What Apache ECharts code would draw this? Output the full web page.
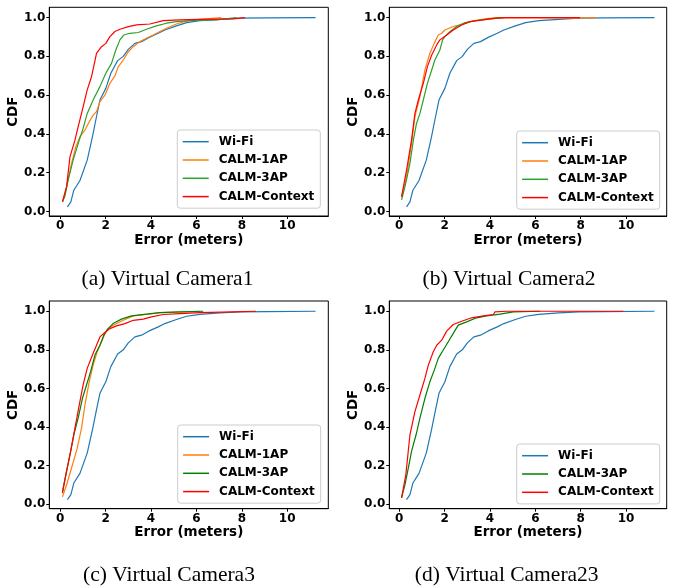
<!DOCTYPE html>
<html>
<head>
<meta charset="utf-8">
<script src="https://cdn.jsdelivr.net/npm/echarts@6/dist/echarts.min.js"></script>
<style>html,body{margin:0;padding:0;background:#fff}#c{width:678px;height:587px}</style>
</head>
<body>
<div id="c"></div>
<script>
// ---- tick labels ----
const xTicks = [0, 2, 4, 6, 8, 10];
const yTicks = [0, 0.2, 0.4, 0.6, 0.8, 1.0];
const seriesNames = ['Wi-Fi', 'CALM-1AP', 'CALM-3AP', 'CALM-Context'];
const captions = ['(a) Virtual Camera1', '(b) Virtual Camera2', '(c) Virtual Camera3', '(d) Virtual Camera23'];

// ---- data: [error (m), CDF] ----
const wifi = [[0.32,0.024],[0.47,0.05],[0.6,0.11],[0.87,0.16],[1.19,0.265],[1.42,0.385],[1.6,0.49],[1.75,0.575],[2.01,0.635],[2.23,0.713],[2.53,0.778],[2.78,0.8],[3.0,0.836],[3.29,0.867],[3.58,0.876],[3.92,0.898],[4.32,0.919],[4.61,0.936],[5.12,0.957],[5.57,0.974],[6.15,0.984],[7.03,0.991],[7.91,0.997],[9.09,0.998],[11.25,1.0]];

const a1ap = [[0.1,0.05],[0.28,0.127],[0.5,0.248],[0.69,0.334],[0.87,0.386],[1.09,0.42],[1.28,0.463],[1.45,0.497],[1.6,0.515],[1.75,0.566],[1.97,0.6],[2.19,0.661],[2.41,0.699],[2.56,0.747],[2.78,0.781],[3.0,0.824],[3.22,0.85],[3.51,0.876],[3.8,0.893],[4.1,0.91],[4.39,0.928],[4.68,0.945],[5.12,0.967],[5.57,0.983],[6.15,0.991],[7.1,1.0]];
const a3ap = [[0.1,0.05],[0.2,0.076],[0.35,0.162],[0.57,0.265],[0.84,0.368],[1.01,0.429],[1.19,0.506],[1.45,0.575],[1.75,0.644],[2.01,0.713],[2.26,0.764],[2.45,0.833],[2.63,0.885],[2.8,0.91],[3.07,0.919],[3.44,0.923],[3.8,0.94],[4.24,0.957],[4.68,0.971],[5.12,0.979],[5.86,0.985],[6.89,0.988],[7.77,1.0]];
const aCtx = [[0.1,0.05],[0.28,0.127],[0.43,0.282],[0.65,0.368],[0.79,0.437],[1.01,0.54],[1.19,0.627],[1.38,0.695],[1.6,0.816],[1.82,0.85],[2.01,0.867],[2.19,0.902],[2.41,0.928],[2.63,0.94],[3.0,0.953],[3.36,0.962],[3.95,0.967],[4.54,0.984],[5.27,0.988],[6.15,0.991],[7.62,0.993],[8.14,1.0]];

const b1ap = [[0.1,0.076],[0.32,0.179],[0.54,0.351],[0.69,0.489],[0.91,0.592],[1.13,0.73],[1.35,0.816],[1.54,0.867],[1.72,0.91],[1.87,0.919],[2.01,0.936],[2.38,0.954],[2.82,0.967],[3.26,0.983],[3.85,0.995],[4.29,1.0],[7.68,0.997],[8.68,1.0]];
const b3ap = [[0.1,0.06],[0.25,0.127],[0.47,0.248],[0.62,0.368],[0.76,0.454],[0.91,0.506],[1.06,0.575],[1.24,0.661],[1.43,0.73],[1.57,0.781],[1.79,0.833],[1.91,0.885],[2.01,0.902],[2.24,0.928],[2.53,0.954],[2.9,0.974],[3.41,0.985],[4.0,0.993],[4.59,1.0]];
const bCtx = [[0.1,0.076],[0.32,0.213],[0.54,0.368],[0.69,0.506],[0.84,0.575],[1.06,0.661],[1.24,0.747],[1.43,0.807],[1.65,0.859],[1.79,0.885],[2.09,0.91],[2.38,0.936],[2.75,0.962],[3.12,0.979],[3.71,0.988],[4.29,0.997],[4.74,1.0],[7.97,1.0]];

const c1ap = [[0.1,0.038],[0.28,0.1],[0.5,0.188],[0.75,0.291],[0.94,0.394],[1.09,0.515],[1.28,0.635],[1.45,0.721],[1.63,0.79],[1.82,0.842],[2.04,0.902],[2.33,0.927],[2.78,0.953],[3.22,0.976],[3.8,0.983],[4.39,0.993],[5.57,0.997],[6.15,1.0]];
const c3ap = [[0.1,0.067],[0.25,0.153],[0.43,0.256],[0.6,0.36],[0.79,0.446],[0.98,0.549],[1.16,0.618],[1.34,0.687],[1.53,0.773],[1.75,0.824],[1.92,0.876],[2.11,0.91],[2.33,0.936],[2.7,0.959],[3.14,0.976],[3.8,0.985],[4.39,0.993],[5.27,0.997],[6.3,1.0]];
const cCtx = [[0.1,0.058],[0.28,0.17],[0.46,0.274],[0.65,0.394],[0.84,0.515],[1.01,0.618],[1.19,0.704],[1.42,0.773],[1.6,0.824],[1.75,0.867],[1.97,0.89],[2.19,0.91],[2.48,0.924],[2.85,0.936],[3.22,0.953],[3.66,0.959],[4.02,0.971],[4.54,0.983],[5.27,0.988],[6.15,0.993],[7.62,0.997],[8.62,1.0]];

const d3ap = [[0.1,0.033],[0.25,0.1],[0.4,0.188],[0.54,0.274],[0.74,0.36],[0.91,0.446],[1.13,0.549],[1.35,0.635],[1.57,0.704],[1.72,0.756],[1.94,0.799],[2.16,0.842],[2.38,0.885],[2.6,0.928],[2.97,0.945],[3.41,0.966],[3.85,0.976],[4.44,0.985],[5.03,0.997],[6.21,1.0]];
const dCtx = [[0.1,0.033],[0.29,0.153],[0.47,0.36],[0.69,0.48],[0.91,0.566],[1.13,0.652],[1.28,0.721],[1.5,0.79],[1.65,0.824],[1.87,0.85],[2.09,0.897],[2.38,0.931],[2.75,0.948],[3.19,0.966],[3.71,0.976],[4.15,0.983],[4.22,0.997],[4.74,1.0],[9.88,1.0]];

// ---- styling / layout ----
const BLUE = '#1f77b4', ORANGE = '#ff7f0e', GREEN1 = '#2ca02c', GREEN2 = '#008000', RED = '#ff0000';
const panels = [
  { grid: {left: 49.3, top: 7.3, width: 279, height: 208.7}, xr: [-0.48, 11.81],
    lines: [['Wi-Fi', wifi, BLUE], ['CALM-1AP', a1ap, ORANGE], ['CALM-3AP', a3ap, GREEN1], ['CALM-Context', aCtx, RED]],
    legend: {left: 177.3, top: 130}, cap: [167.5, 279.5] },
  { grid: {left: 389.3, top: 7.3, width: 277.4, height: 208.7}, xr: [-0.44, 11.79],
    lines: [['Wi-Fi', wifi, BLUE], ['CALM-1AP', b1ap, ORANGE], ['CALM-3AP', b3ap, GREEN1], ['CALM-Context', bCtx, RED]],
    legend: {left: 516.7, top: 131}, cap: [509, 279.5] },
  { grid: {left: 49.3, top: 301, width: 279, height: 207.7}, xr: [-0.48, 11.81],
    lines: [['Wi-Fi', wifi, BLUE], ['CALM-1AP', c1ap, ORANGE], ['CALM-3AP', c3ap, GREEN2], ['CALM-Context', cCtx, RED]],
    legend: {left: 177.7, top: 425}, cap: [169, 575] },
  { grid: {left: 389.3, top: 301, width: 277.4, height: 207.7}, xr: [-0.44, 11.79],
    lines: [['Wi-Fi', wifi, BLUE], ['CALM-3AP', d3ap, GREEN2], ['CALM-Context', dCtx, RED]],
    legend: {left: 516.7, top: 444}, cap: [506.7, 575] }
];

const tickFont = {fontFamily: 'DejaVu Sans', fontWeight: 'bold', fontSize: 12, color: '#000'};
const nameFont = {fontFamily: 'DejaVu Sans', fontWeight: 'bold', fontSize: 13.5, color: '#000'};

const grid = [], xAxis = [], yAxis = [], series = [], legend = [], graphic = [];
panels.forEach((p, i) => {
  grid.push(Object.assign({show: true, borderColor: '#000', borderWidth: 1, backgroundColor: 'transparent'}, p.grid));
  xAxis.push({
    type: 'value', gridIndex: i, min: p.xr[0], max: p.xr[1],
    axisLine: {show: true, onZero: false, lineStyle: {color: '#000', width: 1}},
    axisTick: {show: true, customValues: xTicks, length: 3, lineStyle: {color: '#000', width: 1}},
    axisLabel: Object.assign({customValues: xTicks, margin: 4}, tickFont),
    splitLine: {show: false},
    name: 'Error (meters)', nameLocation: 'middle', nameGap: 17, nameTextStyle: nameFont
  });
  yAxis.push({
    type: 'value', gridIndex: i, min: -0.023, max: 1.053,
    axisLine: {show: true, onZero: false, lineStyle: {color: '#000', width: 1}},
    axisTick: {show: true, customValues: yTicks, length: 3, lineStyle: {color: '#000', width: 1}},
    axisLabel: Object.assign({customValues: yTicks, margin: 4, formatter: v => v.toFixed(1)}, tickFont),
    splitLine: {show: false},
    name: 'CDF', nameLocation: 'middle', nameGap: 22, nameRotate: 90, nameTextStyle: nameFont
  });
  p.lines.forEach(([name, data, color]) => {
    series.push({
      type: 'line', name: name, xAxisIndex: i, yAxisIndex: i, data: data,
      showSymbol: false, symbol: 'none', color: color,
      lineStyle: {color: color, width: 1.2}, emphasis: {disabled: true}
    });
  });
  legend.push({
    orient: 'vertical', left: p.legend.left, top: p.legend.top,
    data: p.lines.map(([name, , color]) => ({name: name, itemStyle: {color: color}})),
    icon: 'rect', itemWidth: 26, itemHeight: 1.5, itemGap: 4.3,
    padding: [4.7, 6, 4.6, 5.4],
    backgroundColor: 'rgba(255,255,255,0.8)', borderColor: '#cccccc', borderWidth: 1, borderRadius: 3,
    selectedMode: false,
    textStyle: {fontFamily: 'DejaVu Sans', fontWeight: 'bold', fontSize: 12, color: '#000', lineHeight: 14, padding: [0, 0, 0, 5]}
  });
  graphic.push({
    type: 'text', x: p.cap[0], y: p.cap[1], silent: true,
    style: {text: captions[i], fill: '#000', font: '21.5px "Liberation Serif", "Times New Roman", serif',
            align: 'center', verticalAlign: 'middle'}
  });
});

const chart = echarts.init(document.getElementById('c'), null, {renderer: 'canvas', width: 678, height: 587});
chart.setOption({animation: false, backgroundColor: '#fff', grid, xAxis, yAxis, series, legend, graphic});
</script>
</body>
</html>
